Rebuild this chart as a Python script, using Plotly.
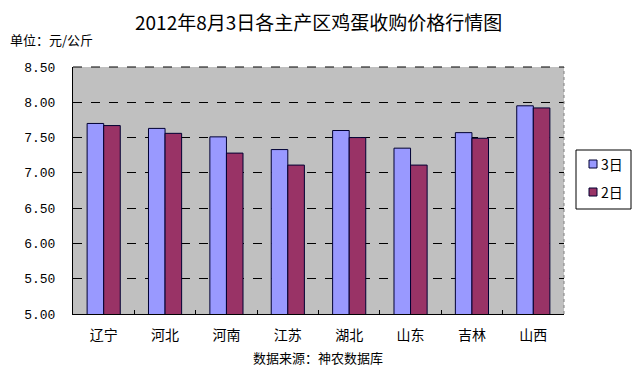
import plotly.graph_objects as go

categories = ["辽宁", "河北", "河南", "江苏", "湖北", "山东", "吉林", "山西"]
day3 = [7.70, 7.63, 7.51, 7.33, 7.60, 7.35, 7.57, 7.95]
day2 = [7.67, 7.56, 7.28, 7.11, 7.50, 7.11, 7.49, 7.92]
series_names = ["3日", "2日"]
series_colors = ["#9999FF", "#993366"]
y_ticks = [5.0, 5.5, 6.0, 6.5, 7.0, 7.5, 8.0, 8.5]
y_ticktext = ["5.00", "5.50", "6.00", "6.50", "7.00", "7.50", "8.00", "8.50"]

CJK = "Noto Sans CJK SC"
L, R, T, B = 73, 564, 67, 314
PW, PH = R - L, B - T


def px(x):
    return (x - L) / PW


def py(y):
    return (B - y) / PH


fig = go.Figure()
for name, vals, col in zip(series_names, [day3, day2], series_colors):
    fig.add_bar(x=categories, y=vals, name=name,
                marker=dict(color=col, line=dict(color="#000033", width=1)))

fig.update_layout(
    width=638, height=368,
    margin=dict(l=L, r=638 - R, t=T, b=368 - B, autoexpand=False),
    paper_bgcolor="white", plot_bgcolor="#C0C0C0",
    barmode="group", bargap=0.46, bargroupgap=0,
    showlegend=False,
    font=dict(family=CJK, color="black"),
)
fig.update_yaxes(range=[5, 8.5], tickvals=y_ticks, ticktext=y_ticktext,
                 showgrid=True, gridcolor="black", griddash="dash", gridwidth=1,
                 showline=True, linecolor="black", linewidth=1,
                 ticks="", ticklabelstandoff=14,
                 tickfont=dict(family="Liberation Mono", size=13, color="black"),
                 zeroline=False)
fig.update_xaxes(showline=True, linecolor="black", linewidth=1,
                 ticks="inside", tickson="boundaries", ticklen=4, tickcolor="black",
                 tickfont=dict(family=CJK, size=14, color="black"),
                 ticklabelstandoff=8)

# dotted right border and dashed top border
fig.add_shape(type="line", xref="paper", yref="paper", x0=1, x1=1, y0=0, y1=1,
              line=dict(color="#808080", width=1, dash="dot"))
fig.add_shape(type="line", xref="paper", yref="paper", x0=0, x1=1, y0=1, y1=1,
              line=dict(color="black", width=1, dash="dash"))

# legend box
fig.add_shape(type="rect", xref="paper", yref="paper",
              x0=px(576), x1=px(631), y0=py(150), y1=py(209),
              line=dict(color="black", width=1), fillcolor="white")
for i, (name, col) in enumerate(zip(series_names, series_colors)):
    cy = 164 + 28 * i
    fig.add_shape(type="rect", xref="paper", yref="paper",
                  x0=px(589), x1=px(597), y0=py(cy - 4), y1=py(cy + 4),
                  line=dict(color="#000033", width=1), fillcolor=col)
    fig.add_annotation(text=name, xref="paper", yref="paper",
                       x=px(599), y=py(cy), xanchor="left", yanchor="middle",
                       showarrow=False, font=dict(family=CJK, size=14, color="black"))

fig.add_annotation(text="2012年8月3日各主产区鸡蛋收购价格行情图", xref="paper", yref="paper",
                   x=px(318), y=py(22), xanchor="center", yanchor="middle",
                   showarrow=False, font=dict(family=CJK, size=19, color="black"))
fig.add_annotation(text="单位：元/公斤", xref="paper", yref="paper",
                   x=px(8), y=py(40), xanchor="left", yanchor="middle",
                   showarrow=False, font=dict(family=CJK, size=13, color="black"))
fig.add_annotation(text="数据来源：神农数据库", xref="paper", yref="paper",
                   x=px(318), y=py(357), xanchor="center", yanchor="middle",
                   showarrow=False, font=dict(family=CJK, size=13, color="black"))

fig.write_html("out.html")
